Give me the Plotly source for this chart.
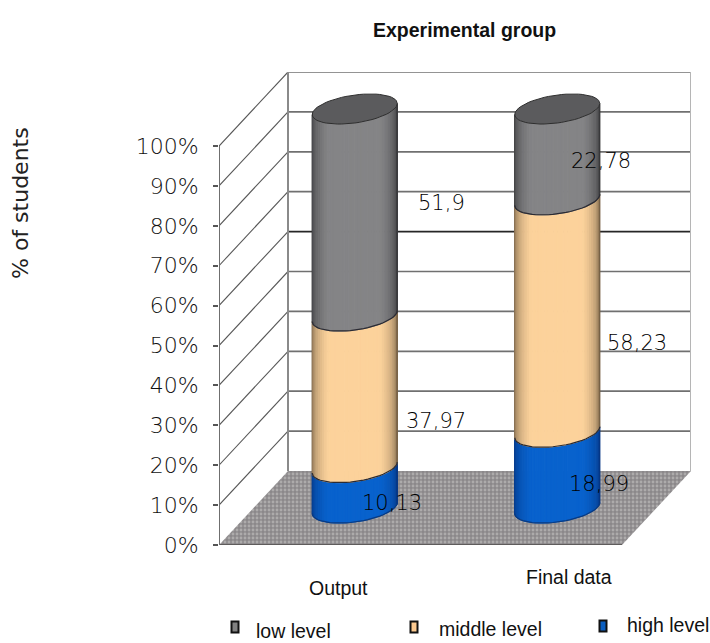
import math
import plotly.graph_objects as go

categories = ["Output", "Final data"]
series_names = ["low level", "middle level", "high level"]
high_level = [10.13, 18.99]
middle_level = [37.97, 58.23]
low_level = [51.9, 22.78]
tick_values = list(range(0, 101, 10))
tick_labels = [f"{v}%" for v in tick_values]
title_text = "Experimental group"
axis_title = "% of students"

W, H = 710, 643
L, R, T, B = 219, 691, 72, 545
PX_X = 202.5
PX_Y = 3.99
DEPTH_X = 69 / PX_X
DEPTH_Y = 74 / PX_Y
X_MAX = (R - L) / PX_X
Y_MAX = (B - T) / PX_Y
RAD_X = 42.5 / PX_X
RAD_Y = 14 / PX_Y
TILT = 5.5 / PX_Y
THIN = "DejaVu Sans"
THIN_WEIGHT = 200
NARROW = "Liberation Sans"

fig = go.Figure()


def add_poly(xs, ys, **kw):
    fig.add_trace(go.Scatter(x=xs, y=ys, mode="lines", showlegend=False, hoverinfo="skip",
                             cliponaxis=False, **kw))


# Walls
add_poly([0, DEPTH_X, DEPTH_X, 0, 0], [0, DEPTH_Y, 100 + DEPTH_Y, 100, 0], fill="toself",
         fillcolor="white", line=dict(width=0))
add_poly([DEPTH_X, X_MAX, X_MAX, DEPTH_X, DEPTH_X],
         [DEPTH_Y, DEPTH_Y, 100 + DEPTH_Y, 100 + DEPTH_Y, DEPTH_Y], fill="toself",
         fillcolor="white", line=dict(width=0))

# Gridlines on the back and side wall
for v in tick_values[1:]:
    col = "#262626" if v == 60 else "#707070"
    add_poly([DEPTH_X, X_MAX], [v + DEPTH_Y, v + DEPTH_Y], line=dict(color=col, width=1.7))
    add_poly([0, DEPTH_X], [v, v + DEPTH_Y], line=dict(color="#555555", width=1.1))

add_poly([DEPTH_X, DEPTH_X], [DEPTH_Y, 100 + DEPTH_Y], line=dict(color="#8a8a8a", width=2))
add_poly([X_MAX, X_MAX], [DEPTH_Y, 100 + DEPTH_Y], line=dict(color="#b5b5b5", width=2))

# Floor
front_right = X_MAX - DEPTH_X
add_poly([0, front_right, X_MAX, DEPTH_X, 0], [0, 0, DEPTH_Y, DEPTH_Y, 0], fill="toself",
         fillcolor="#8d8a8a",
         fillpattern=dict(shape=".", fgcolor="#d0cecc", bgcolor="#8b888a", size=4, solidity=0.4),
         line=dict(width=0))
add_poly([0, front_right], [0, 0], line=dict(color="#5f5c5c", width=2))

# Front axis line
add_poly([0, 0], [0, 100], line=dict(color="#6f6f6f", width=2))


def mix(c0, c1, f):
    return "rgb({},{},{})".format(*[round(a + (b - a) * f) for a, b in zip(c0, c1)])


SHADES = {
    "low": ((50, 50, 52), (132, 132, 134)),
    "middle": ((105, 86, 62), (252, 210, 155)),
    "high": ((6, 50, 125), (8, 98, 205)),
}
N = 40

stacks = []
for i in range(len(categories)):
    stacks.append([("high", 0, high_level[i]),
                   ("middle", high_level[i], high_level[i] + middle_level[i]),
                   ("low", high_level[i] + middle_level[i], 100)])


def front_arc(cx, cy, t0, t1, n=4):
    xs, ys = [], []
    for k in range(n + 1):
        t = t0 + (t1 - t0) * k / n
        xs.append(cx + RAD_X * math.cos(t))
        ys.append(cy + TILT * math.cos(t) + RAD_Y * math.sin(t))
    return xs, ys


for i, stack in enumerate(stacks):
    cx = i + 0.5 + DEPTH_X / 2
    base = DEPTH_Y / 2
    for name, v0, v1 in stack:
        c_edge, c_mid = SHADES[name]
        for s in range(N):
            t0 = math.pi + math.pi * s / N
            t1 = math.pi + math.pi * (s + 1) / N
            lx, ly = front_arc(cx, base + v0, t0, t1)
            ux, uy = front_arc(cx, base + v1, t1, t0)
            f = min(1.0, math.sin(math.pi * (s + 0.5) / N) ** 0.8 * 1.2)
            col = mix(c_edge, c_mid, f)
            add_poly(lx + ux + lx[:1], ly + uy + ly[:1], fill="toself", fillcolor=col,
                     line=dict(width=1, color=col))
    # Arcs between the segments
    for name, v0, v1 in stack:
        ax, ay = front_arc(cx, base + v0, math.pi, 2 * math.pi, 30)
        add_poly(ax, ay, line=dict(color="#2b2b33" if v0 > 0 else "#0a3a80", width=1.2))
    # Top cap
    ax, ay = front_arc(cx, base + 100, 0, 2 * math.pi, 60)
    add_poly(ax, ay, fill="toself", fillcolor="#5b5b5d", line=dict(color="#2e2e2e", width=1))

# Data labels, anchored on the middle of each stack segment
label_shift = [[(37, -15), (81, -29), (87, 10)], [(42, -14), (80, -27), (44, -7)]]
for i, stack in enumerate(stacks):
    cx = i + 0.5 + DEPTH_X / 2
    for (name, v0, v1), (dx, dy) in zip(stack, label_shift[i]):
        val = v1 - v0
        fig.add_annotation(x=cx, y=DEPTH_Y / 2 + (v0 + v1) / 2, xref="x", yref="y",
                           text=f"{val:.2f}".rstrip("0").replace(".", ","), showarrow=False,
                           xshift=dx, yshift=dy,
                           font=dict(family=THIN, weight=THIN_WEIGHT, size=21, color="#000000"))


def px(xp, yp):
    return (xp - L) / (R - L), (B - yp) / (B - T)


def text(xp, yp, s, family=NARROW, size=19.5, color="#111111", **kw):
    xx, yy = px(xp, yp)
    fig.add_annotation(x=xx, y=yy, xref="paper", yref="paper", text=s, showarrow=False,
                       xanchor="center", yanchor="middle",
                       font=dict(family=family, size=size, color=color), **kw)


text(464, 30, f"<b>{title_text}</b>", size=19.5)
text(20, 203, axis_title, family="DejaVu Sans", size=22, color="#222222", textangle=-90)
text(338, 588, categories[0], size=19.5)
text(569, 577, categories[1], size=19.5)

legend_pos = [(235, 627, 293, 631), (414, 627, 490, 629), (603, 626, 668, 625)]
legend_cols = ["#808080", "#fbc98f", "#0a5ec0"]
for name, (sx, sy, tx, ty), col in zip(series_names, legend_pos, legend_cols):
    x0, y0 = px(sx - 3.5, sy + 5.5)
    x1, y1 = px(sx + 3.5, sy - 5.5)
    fig.add_shape(type="rect", xref="paper", yref="paper", x0=x0, x1=x1, y0=y0, y1=y1,
                  fillcolor=col, line=dict(color="#111111", width=2))
    text(tx, ty, name, size=19.5)

fig.update_layout(
    width=W, height=H, autosize=False,
    margin=dict(l=L, r=W - R, t=T, b=H - B, pad=0),
    paper_bgcolor="white", plot_bgcolor="white", showlegend=False,
    xaxis=dict(range=[0, X_MAX], showgrid=False, zeroline=False, showline=False,
               showticklabels=False, ticks=""),
    yaxis=dict(range=[0, Y_MAX], showgrid=False, zeroline=False, showline=False,
               tickmode="array", tickvals=tick_values, ticktext=tick_labels, ticks="outside",
               ticklen=5, tickwidth=1.5, tickcolor="#555555", ticklabelstandoff=10,
               tickfont=dict(family=THIN, weight=THIN_WEIGHT, size=22, color="#111111")),
)

fig.write_html("out.html", post_script="document.body.style.margin='0';",
               config={"displayModeBar": False})
